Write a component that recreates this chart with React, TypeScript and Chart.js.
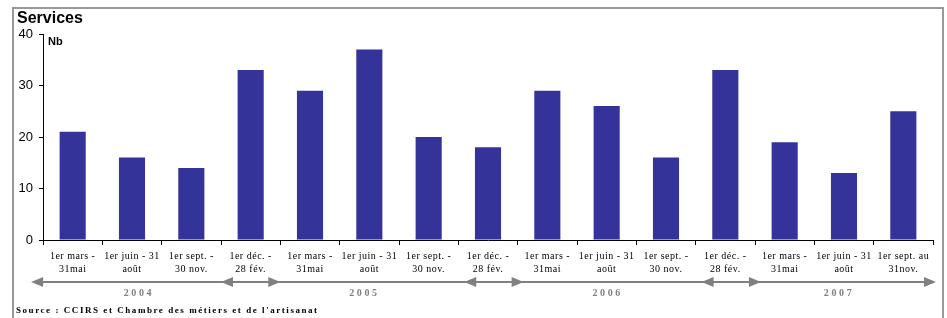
import { useEffect, useRef } from 'react';
import { Chart, registerables } from 'chart.js';

Chart.register(...registerables);

const categories = [
  '1er mars - 31mai', '1er juin - 31 août', '1er sept. - 30 nov.', '1er déc. - 28 fév.',
  '1er mars - 31mai', '1er juin - 31 août', '1er sept. - 30 nov.', '1er déc. - 28 fév.',
  '1er mars - 31mai', '1er juin - 31 août', '1er sept. - 30 nov.', '1er déc. - 28 fév.',
  '1er mars - 31mai', '1er juin - 31 août', '1er sept. au 31nov.',
];
const labelLine1 = [
  '1er mars -', '1er juin - 31', '1er sept. -', '1er déc. -',
  '1er mars -', '1er juin - 31', '1er sept. -', '1er déc. -',
  '1er mars -', '1er juin - 31', '1er sept. -', '1er déc. -',
  '1er mars -', '1er juin - 31', '1er sept. au',
];
const labelLine2 = [
  '31mai', 'août', '30 nov.', '28 fév.',
  '31mai', 'août', '30 nov.', '28 fév.',
  '31mai', 'août', '30 nov.', '28 fév.',
  '31mai', 'août', '31nov.',
];
const values = [21, 16, 14, 33, 29, 37, 20, 18, 29, 26, 16, 33, 19, 13, 25];
const yTickValues = [0, 10, 20, 30, 40];
const years = ['2004', '2005', '2006', '2007'];
// year label centres, in category units
const yearPositions = [1.1, 4.9, 9.0, 12.9];
// double-headed "déc.-fév." arrows, in category units
const winterSpans = [[2.5, 3.5], [6.6, 7.6], [10.6, 11.6]];
// overall timeline extent, in category units
const timelineExtent = [-0.7, 14.55];

const titleText = 'Services';
const unitText = 'Nb';
const sourceText = "Source : CCIRS et Chambre des métiers et de l'artisanat";

const decorPlugin = {
  id: 'decor',
  beforeDraw(chart: any) {
    const ctx = chart.ctx;
    ctx.save();
    ctx.fillStyle = '#ffffff';
    ctx.fillRect(0, 0, chart.width, chart.height);
    ctx.strokeStyle = '#999999';
    ctx.lineWidth = 2;
    ctx.strokeRect(13, 8, 930, 340);
    ctx.restore();
  },
  afterDraw(chart: any) {
    const ctx = chart.ctx;
    const xs = chart.scales.x;
    const px = (v: number) => xs.getPixelForValue(v);
    ctx.save();
    // title
    ctx.fillStyle = '#000';
    ctx.textAlign = 'left';
    ctx.textBaseline = 'alphabetic';
    ctx.font = 'bold 16px "Liberation Sans", Arial, sans-serif';
    ctx.fillText(titleText, 17, 23);
    ctx.font = 'bold 11px "Liberation Sans", Arial, sans-serif';
    ctx.fillText(unitText, 48, 45);

    // category labels
    ctx.font = '10px "Liberation Serif", "Times New Roman", serif';
    ctx.textAlign = 'center';
    try { (ctx as any).letterSpacing = '0.5px'; } catch (e) {}
    labelLine1.forEach((t, i) => {
      ctx.fillText(t, px(i), 259);
      ctx.fillText(labelLine2[i], px(i), 272);
    });

    // timeline arrows
    const y = 282;
    ctx.strokeStyle = '#808080';
    ctx.fillStyle = '#808080';
    ctx.lineWidth = 2;
    ctx.beginPath();
    ctx.moveTo(px(timelineExtent[0]) + 6, y);
    ctx.lineTo(px(timelineExtent[1]) - 6, y);
    ctx.stroke();
    const head = (tip: number, dir: number) => {
      ctx.beginPath();
      ctx.moveTo(tip, y);
      ctx.lineTo(tip - dir * 12, y - 5);
      ctx.lineTo(tip - dir * 12, y + 5);
      ctx.closePath();
      ctx.fill();
    };
    head(px(timelineExtent[0]), -1);
    head(px(timelineExtent[1]), 1);
    winterSpans.forEach(([a, b]) => {
      head(px(a), -1);
      head(px(b), 1);
    });

    // years
    ctx.font = 'bold 10px "Liberation Serif", "Times New Roman", serif';
    try { (ctx as any).letterSpacing = '2.6px'; } catch (e) {}
    years.forEach((t, i) => ctx.fillText(t, px(yearPositions[i]) + 1, 296));

    // source
    ctx.fillStyle = '#000';
    ctx.textAlign = 'left';
    ctx.font = 'bold 9px "Liberation Serif", "Times New Roman", serif';
    try { (ctx as any).letterSpacing = '1.55px'; } catch (e) {}
    ctx.fillText(sourceText, 16, 313);
    ctx.restore();
  },
};

export default function App() {
  const ref = useRef<HTMLCanvasElement>(null);
  useEffect(() => {
    if (!ref.current) return;
    const chart = new Chart(ref.current, {
      type: 'bar',
      data: {
        labels: categories,
        datasets: [{
          data: values,
          backgroundColor: '#333399',
          borderWidth: 0,
          barPercentage: 0.44,
          categoryPercentage: 1,
        }],
      },
      options: {
        responsive: false,
        animation: false,
        devicePixelRatio: 1,
        layout: { padding: { top: 34, right: 14, bottom: 0, left: 0 } },
        plugins: { legend: { display: false }, tooltip: { enabled: false }, title: { display: false } },
        scales: {
          x: {
            offset: true,
            grid: { offset: true, drawOnChartArea: false, drawTicks: true, tickLength: 5, color: '#000' },
            border: { display: true, color: '#000', width: 1 },
            ticks: { display: false },
            afterFit: (s: any) => { s.height = 78; },
          },
          y: {
            min: 0,
            max: 40,
            afterBuildTicks: (s: any) => { s.ticks = yTickValues.map((v) => ({ value: v })); },
            ticks: {
              padding: 6,
              color: '#000',
              font: { family: '"Liberation Sans", Arial, sans-serif', size: 13 },
            },
            grid: { drawOnChartArea: false, drawTicks: true, tickLength: 4, color: '#000' },
            border: { display: true, color: '#000', width: 1 },
            afterFit: (s: any) => { s.width = 43; },
          },
        },
      },
      plugins: [decorPlugin],
    });
    return () => chart.destroy();
  }, []);
  return (
    <div style={{ position: 'absolute', left: 0, top: 0, width: 947, height: 318 }}>
      <canvas ref={ref} width={947} height={318} />
    </div>
  );
}
